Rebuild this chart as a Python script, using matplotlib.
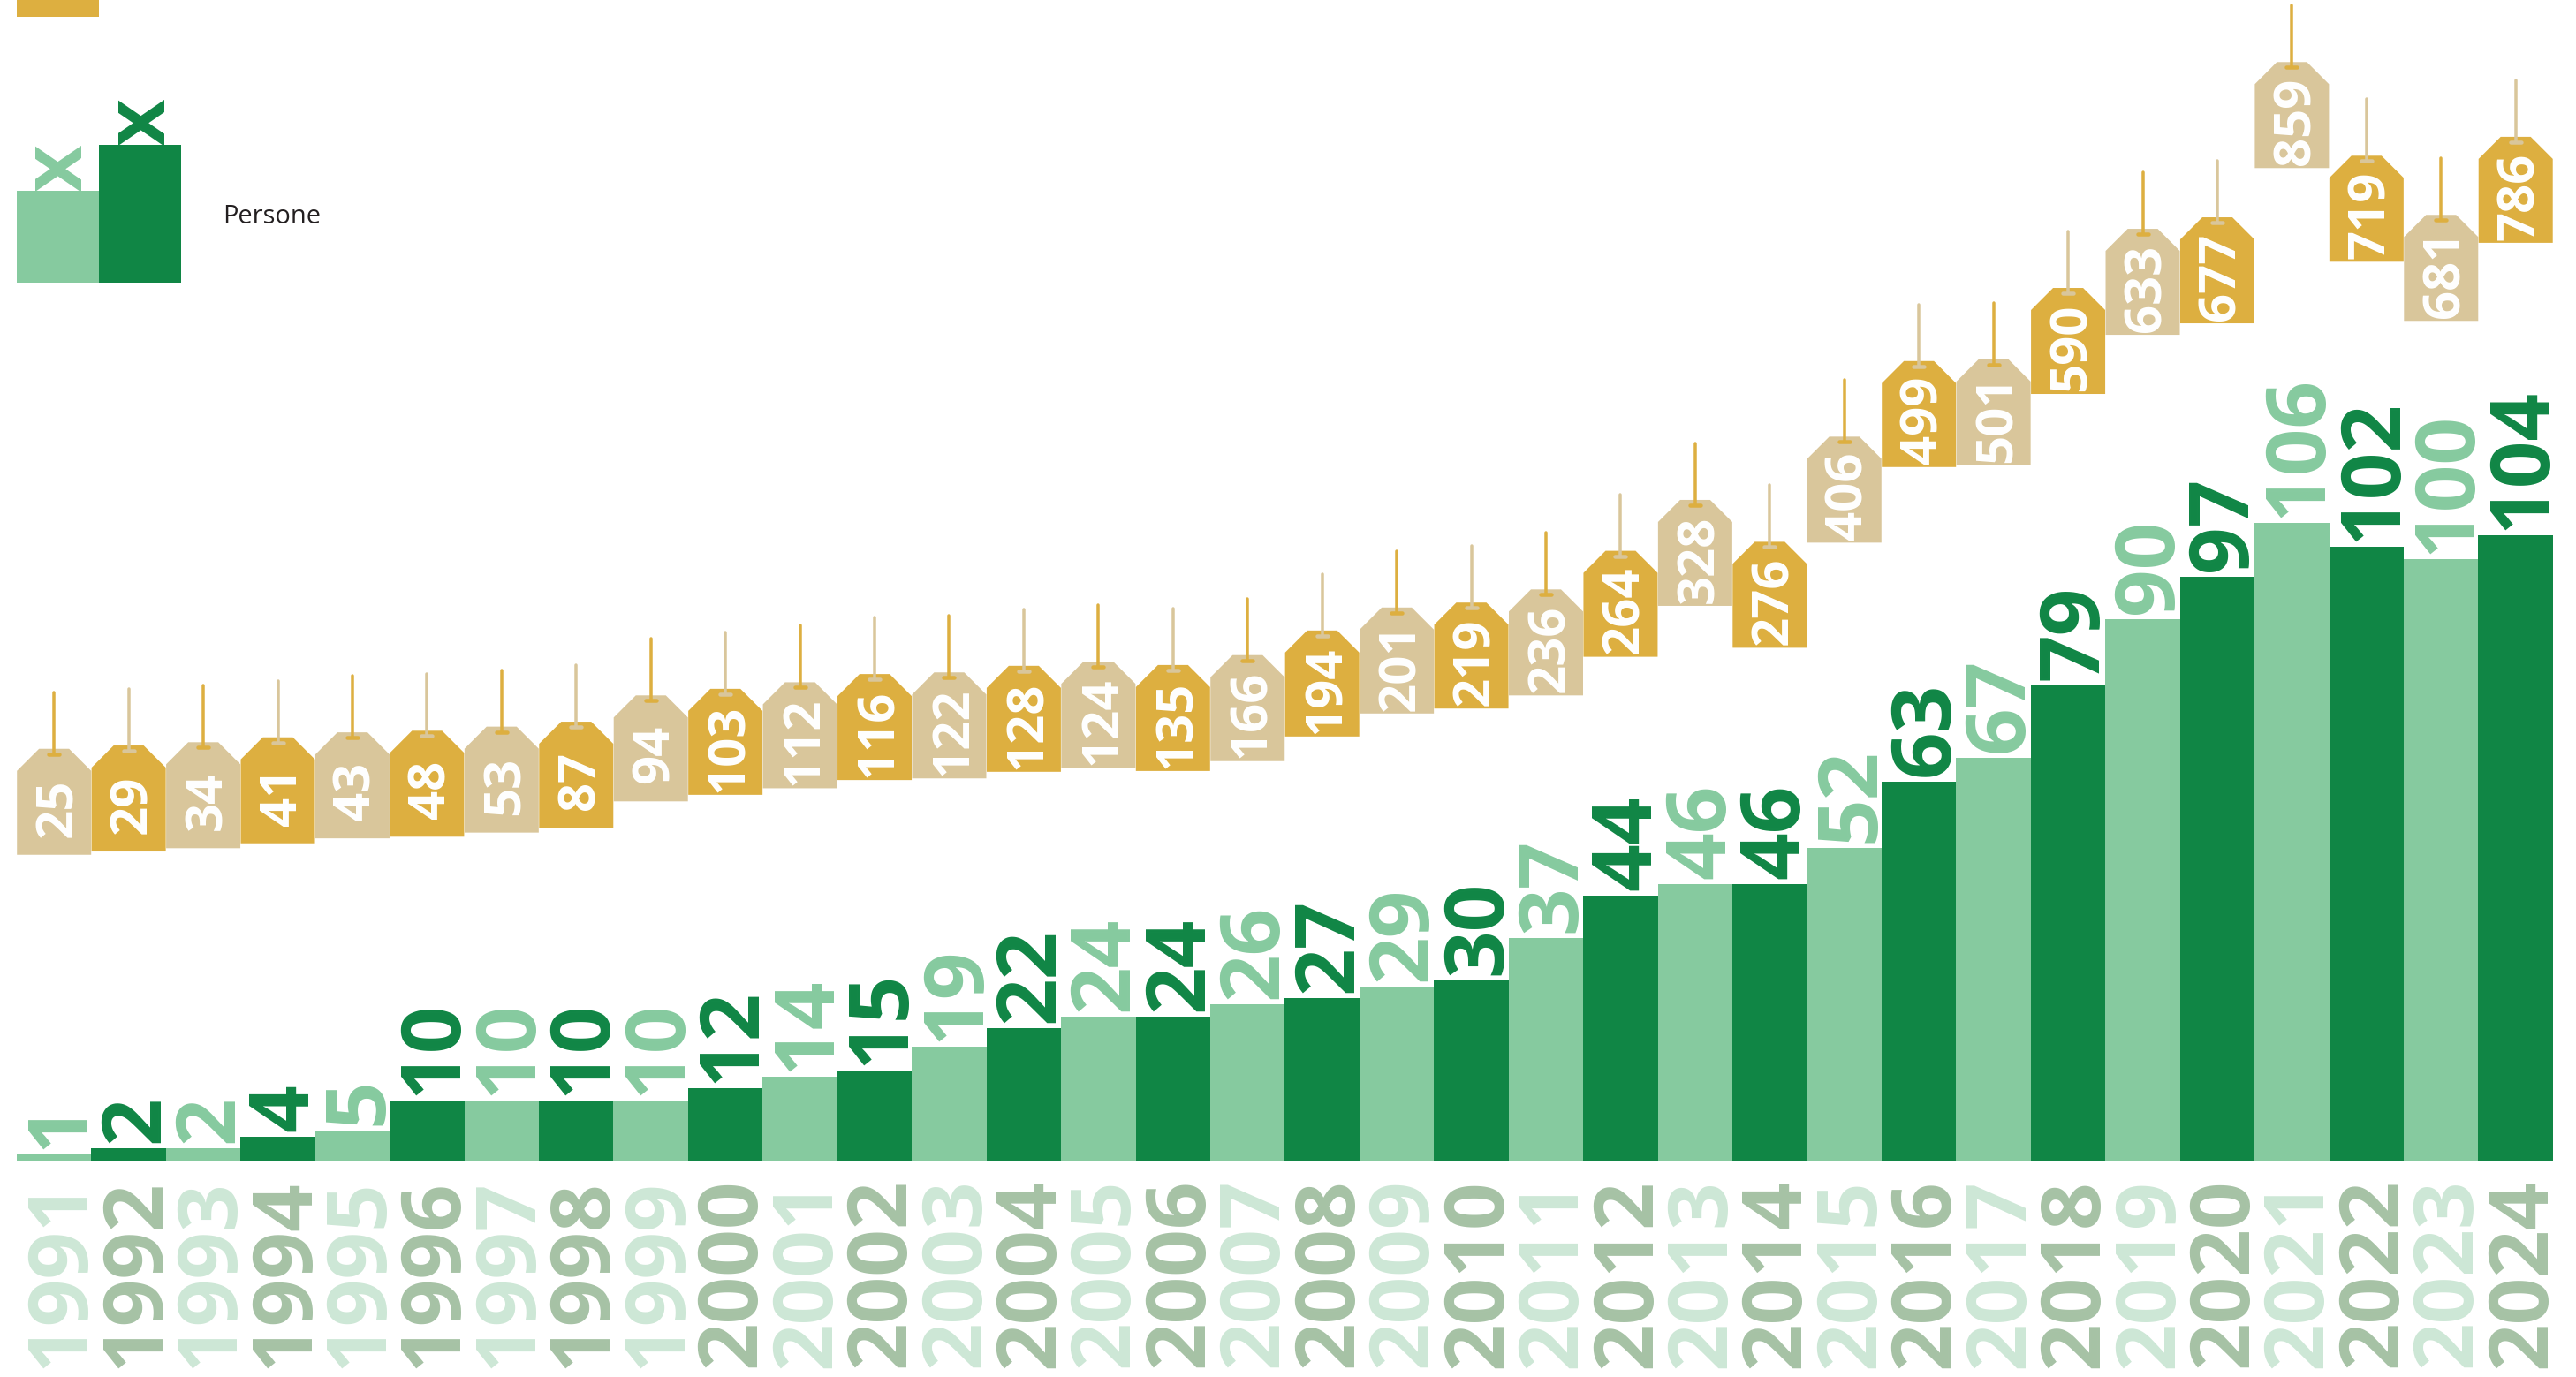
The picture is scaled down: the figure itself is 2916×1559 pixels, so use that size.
import numpy as np
import matplotlib
matplotlib.use("Agg")
import matplotlib.pyplot as plt
from matplotlib.patches import Polygon, Rectangle

plt.rcParams['font.family'] = ['Open Sans', 'DejaVu Sans']

years = list(range(1991, 2025))
persone = [1, 2, 2, 4, 5, 10, 10, 10, 10, 12, 14, 15, 19, 22, 24, 24, 26,
           27, 29, 30, 37, 44, 46, 46, 52, 63, 67, 79, 90, 97, 106, 102, 100, 104]
# printed on each price tag
tag_labels = [25, 29, 34, 41, 43, 48, 53, 87, 94, 103, 112, 116, 122, 128, 124, 135, 166,
              194, 201, 219, 236, 264, 328, 276, 406, 499, 501, 590, 633, 677, 859, 719, 681, 786]
# height the tag really hangs at in the picture, not always the printed number
tag_levels = [25, 29, 33, 39, 45, 47, 52, 58, 90, 98, 106, 116, 118, 126, 131, 127, 139,
              169, 197, 203, 219, 266, 328, 277, 405, 497, 499, 586, 658, 672, 861, 747, 675, 770]

W, H = 2916, 1559
DPI = 100
PX_X = 84.44    # one year, in pixels
PX_BAR = 6.81   # one person, in pixels
PX_TAG = 0.93   # one tag unit, in pixels

DARK = '#108645'
LIGHT = '#86CA9F'
YEAR_DARK = '#A6C2A5'
YEAR_LIGHT = '#CDE7D6'
GOLD = '#DDAF40'
BEIGE = '#D9C69B'


def pt(px):
    return px * 72 / DPI


fig = plt.figure(figsize=(W / DPI, H / DPI), dpi=DPI, facecolor='white')
ax = fig.add_axes([0, 0, 1, 1])
ax.set_xlim(-61.2 / PX_X, (W - 61.2) / PX_X)
ax.set_ylim(-(H - 1314) / PX_BAR, 1314 / PX_BAR)
ax.axis('off')

tag_ax = ax.twinx()
tag_ax.set_ylim(-(H - 991) / PX_TAG, 991 / PX_TAG)
tag_ax.axis('off')

x = np.arange(len(years))
bar_cols = [DARK if y % 2 == 0 else LIGHT for y in years]
ax.bar(x, persone, width=1.0, color=bar_cols, linewidth=0)

base_off = 33.5 / PX_X   # digits are centred on the bar, baseline sits to the right
for i, y in enumerate(years):
    ax.text(i + base_off, persone[i] + 6 / PX_BAR, str(persone[i]), rotation=90,
            rotation_mode='anchor', ha='left', va='baseline',
            color=bar_cols[i], fontsize=pt(94), fontweight='bold')
    ax.text(i + base_off, -20 / PX_BAR, str(y), rotation=90,
            rotation_mode='anchor', ha='right', va='baseline',
            color=YEAR_DARK if y % 2 == 0 else YEAR_LIGHT,
            fontsize=pt(94), fontweight='bold')

# price tags
tag_h = 120 / PX_TAG
inset_x = 25 / PX_X
inset_y = 25 / PX_TAG
half = 42 / PX_X
for i, lev in enumerate(tag_levels):
    odd = years[i] % 2 == 1
    col, other = (BEIGE, GOLD) if odd else (GOLD, BEIGE)
    top = lev + tag_h
    tag_ax.add_patch(Polygon([(i - half, lev), (i + half, lev), (i + half, top - inset_y),
                              (i + half - inset_x, top), (i - half + inset_x, top),
                              (i - half, top - inset_y)], closed=True, fc=col, ec='none'))
    tag_ax.plot([i, i], [top + 64 / PX_TAG, top - 6 / PX_TAG], color=other,
                lw=pt(3.5), solid_capstyle='round')
    tag_ax.plot([i - 6 / PX_X, i + 6 / PX_X], [top - 6 / PX_TAG] * 2, color=other,
                lw=pt(4.5), solid_capstyle='round')
    tag_ax.text(i + 20 / PX_X, lev + 53 / PX_TAG, str(tag_labels[i]), rotation=90,
                rotation_mode='anchor', ha='center', va='baseline', color='white',
                fontsize=pt(58), fontweight='bold')

# legend, in plain pixels
leg = fig.add_axes([0, 0, 1, 1])
leg.set_xlim(0, W)
leg.set_ylim(H, 0)
leg.axis('off')
leg.patch.set_alpha(0)
leg.add_patch(Rectangle((19, 0), 93, 19, fc=GOLD, ec='none'))
leg.add_patch(Rectangle((19, 216), 93, 104, fc=LIGHT, ec='none'))
leg.add_patch(Rectangle((112, 164), 93, 156, fc=DARK, ec='none'))
leg.text(92, 217, 'X', rotation=90, rotation_mode='anchor', ha='left', va='baseline',
         color=LIGHT, fontsize=pt(72), fontweight='bold', fontfamily='DejaVu Sans')
leg.text(186, 165, 'X', rotation=90, rotation_mode='anchor', ha='left', va='baseline',
         color=DARK, fontsize=pt(72), fontweight='bold', fontfamily='DejaVu Sans')
leg.text(252, 253, 'Persone', ha='left', va='baseline', color='#231F20', fontsize=pt(29))

fig.savefig('out.png', dpi=DPI)
